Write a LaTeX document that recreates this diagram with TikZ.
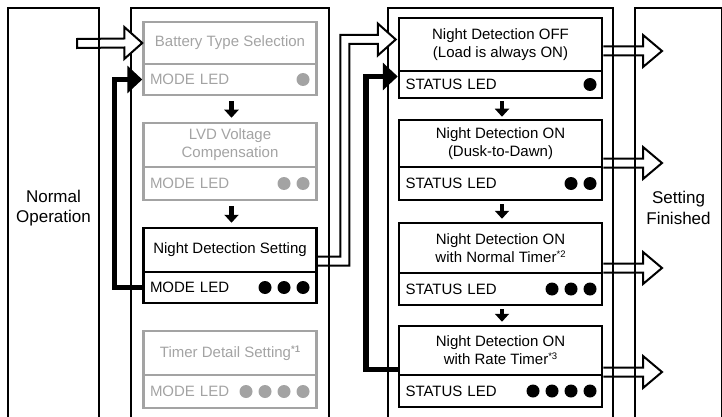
\documentclass[tikz,border=0pt]{standalone}
\usepackage{fontspec}
\setmainfont{Liberation Sans}
\usetikzlibrary{arrows.meta,calc}
\definecolor{lg}{RGB}{163,163,163}
\newcommand\supmark[1]{\raisebox{5pt}{\fontsize{9.5}{9.5}\selectfont #1}}
\newcommand\harrow[2]{%
  \fill[white] (#2) -- ($(#2)+(-19,-16)$) -- ($(#2)+(-19,16)$) -- cycle;
  \draw[hol] ($(#1)+(0,-4.5)$) -- ($(#2)+(-19,-4.5)$) -- ($(#2)+(-19,-16)$) -- (#2)
    -- ($(#2)+(-19,16)$) -- ($(#2)+(-19,4.5)$) -- ($(#1)+(0,4.5)$);}
\begin{document}
\begin{tikzpicture}[x=1pt,y=-1pt,
  panel/.style={line width=2.4pt},
  blk/.style={draw=black,text=black},
  gry/.style={draw=lg,text=lg},
  title/.style={rectangle,line width=2.5pt,inner sep=0pt,align=center,
    font=\fontsize{15}{18}\selectfont},
  led/.style={rectangle,line width=2.5pt,inner xsep=6.5pt,inner ysep=0pt,
    text width=#1,align=left,font=\fontsize{15}{18}\selectfont},
  side/.style={align=center,font=\fontsize{17}{20.5}\selectfont},
  down/.style={line width=4.5pt,-{Triangle[width=14pt,length=8pt]}},
  fb/.style={line width=5.5pt,-{Triangle[width=27pt,length=15pt]}},
  hol/.style={line width=2pt,line join=miter},
]
\useasboundingbox (0,0) rectangle (722,417);
% panels
\draw[panel] (8,420) -- (8,8) -- (99,8) -- (99,420);
\draw[panel] (131,420) -- (131,8) -- (329,8) -- (329,420);
\draw[panel] (388,420) -- (388,8) -- (613,8) -- (613,420);
\draw[panel] (635,420) -- (635,8) -- (722,8) -- (722,420);
\node[side] (normal) at (53.5,208) {Normal\\Operation};
\node[side] (finish) at (678.5,208) {Setting\\Finished};
% panel 2 boxes
\node[title,gry,minimum width=173pt,minimum height=42pt] (bat) at (230,43) {Battery Type Selection};
\node[led=160pt,gry,minimum width=173pt,minimum height=31pt] (batled) at (230,79.5) {MODE LED};
\node[title,gry,minimum width=173pt,minimum height=44pt] (lvd) at (230,145) {LVD Voltage\\Compensation};
\node[led=160pt,gry,minimum width=173pt,minimum height=33pt] (lvdled) at (230,183.5) {MODE LED};
\node[title,blk,minimum width=173pt,minimum height=44pt] (nds) at (230,250) {Night Detection Setting};
\node[led=160pt,blk,minimum width=173pt,minimum height=31pt] (ndsled) at (230,287.5) {MODE LED};
\node[title,gry,minimum width=173pt,minimum height=44pt] (tim) at (230,353) {Timer Detail Setting\supmark{\bfseries *1}};
\node[led=160pt,gry,minimum width=173pt,minimum height=33pt] (timled) at (230,391.5) {MODE LED};
% panel 3 boxes
\node[title,blk,minimum width=203pt,minimum height=53pt] (b1) at (500.5,44.5) {Night Detection OFF\\(Load is always ON)};
\node[led=190pt,blk,minimum width=203pt,minimum height=27pt] (b1led) at (500.5,84.5) {STATUS LED};
\node[title,blk,minimum width=203pt,minimum height=47pt] (b2) at (500.5,143.5) {Night Detection ON\\(Dusk-to-Dawn)};
\node[led=190pt,blk,minimum width=203pt,minimum height=33pt] (b2led) at (500.5,183.5) {STATUS LED};
\node[title,blk,minimum width=203pt,minimum height=50pt] (b3) at (500.5,248) {Night Detection ON\\with Normal Timer\supmark{*2}};
\node[led=190pt,blk,minimum width=203pt,minimum height=32pt] (b3led) at (500.5,289) {STATUS LED};
\node[title,blk,minimum width=203pt,minimum height=49pt] (b4) at (500.5,350.5) {Night Detection ON\\with Rate Timer\supmark{*3}};
\node[led=190pt,blk,minimum width=203pt,minimum height=32pt] (b4led) at (500.5,391) {STATUS LED};
% LED dots
\fill[lg] (303,79.5) circle (6.5);
\foreach \x in {284,303} \fill[lg] (\x,183.5) circle (6.5);
\foreach \x in {265,284,303} \fill[black] (\x,287.5) circle (6.5);
\foreach \x in {246,265,284,303} \fill[lg] (\x,391.5) circle (6.5);
\fill (590,84.5) circle (6.5);
\foreach \x in {571,590} \fill (\x,183.5) circle (6.5);
\foreach \x in {552,571,590} \fill (\x,289) circle (6.5);
\foreach \x in {533,552,571,590} \fill (\x,391) circle (6.5);
% down arrows
\draw[down,shorten <=5pt,shorten >=4pt] ($(batled.south)+(1.5,0)$) -- ($(lvd.north)+(1.5,0)$);
\draw[down,shorten <=5pt,shorten >=4pt] ($(lvdled.south)+(1.5,0)$) -- ($(nds.north)+(1.5,0)$);
\draw[down,shorten <=2pt,shorten >=2pt] ($(b1led.south)+(1.5,0)$) -- ($(b2.north)+(1.5,0)$);
\draw[down,shorten <=3pt,shorten >=3pt] ($(b2led.south)+(1.5,0)$) -- ($(b3.north)+(1.5,0)$);
\draw[down,shorten <=3pt,shorten >=3pt] ($(b3led.south)+(1.5,0)$) -- ($(b4.north)+(1.5,0)$);
% feedback arrows
\draw[fb] (ndsled.west) -- ++(-28,0) |- (batled.west);
\draw[fb] ($(b4.west)+(0,19)$) -- ++(-32,0) |- ($(b1led.west)+(0,-8)$);
% input arrow
\coordinate (in0) at (77,43.5);
\fill[white] (bat.west) -- ($(bat.west)+(-18,-16)$) -- ($(bat.west)+(-18,16)$) -- cycle;
\draw[hol] ($(in0)+(0,-4.5)$) -- ($(bat.west)+(-18,-4.5)$) -- ($(bat.west)+(-18,-16)$) -- (bat.west)
  -- ($(bat.west)+(-18,16)$) -- ($(bat.west)+(-18,4.5)$) -- ($(in0)+(0,4.5)$) -- cycle;
% bent hollow arrow
\coordinate (d0) at ($(nds.east)+(0,11)$);
\coordinate (d1) at ($(b1.west)+(-2,-5)$);
\coordinate (dm) at ($(d0)+(27,0)$);
\fill[white] (d1) -- ($(d1)+(-18,-16)$) -- ($(d1)+(-18,16)$) -- cycle;
\draw[hol] ($(d0)+(0,-4.5)$) -- ($(dm)+(-4.5,-4.5)$) -- ($(dm |- d1)+(-4.5,-4.5)$)
  -- ($(d1)+(-18,-4.5)$) -- ($(d1)+(-18,-16)$) -- (d1) -- ($(d1)+(-18,16)$)
  -- ($(d1)+(-18,4.5)$) -- ($(dm |- d1)+(4.5,4.5)$) -- ($(dm)+(4.5,4.5)$) -- ($(d0)+(0,4.5)$);
% output arrows
\coordinate (o1) at (662,51);
\coordinate (o2) at (662,163);
\coordinate (o3) at (662,268);
\coordinate (o4) at (662,372);
\harrow{b1.east |- o1}{o1}
\harrow{b2.east |- o2}{o2}
\harrow{b3.east |- o3}{o3}
\harrow{b4.east |- o4}{o4}
\end{tikzpicture}
\end{document}
